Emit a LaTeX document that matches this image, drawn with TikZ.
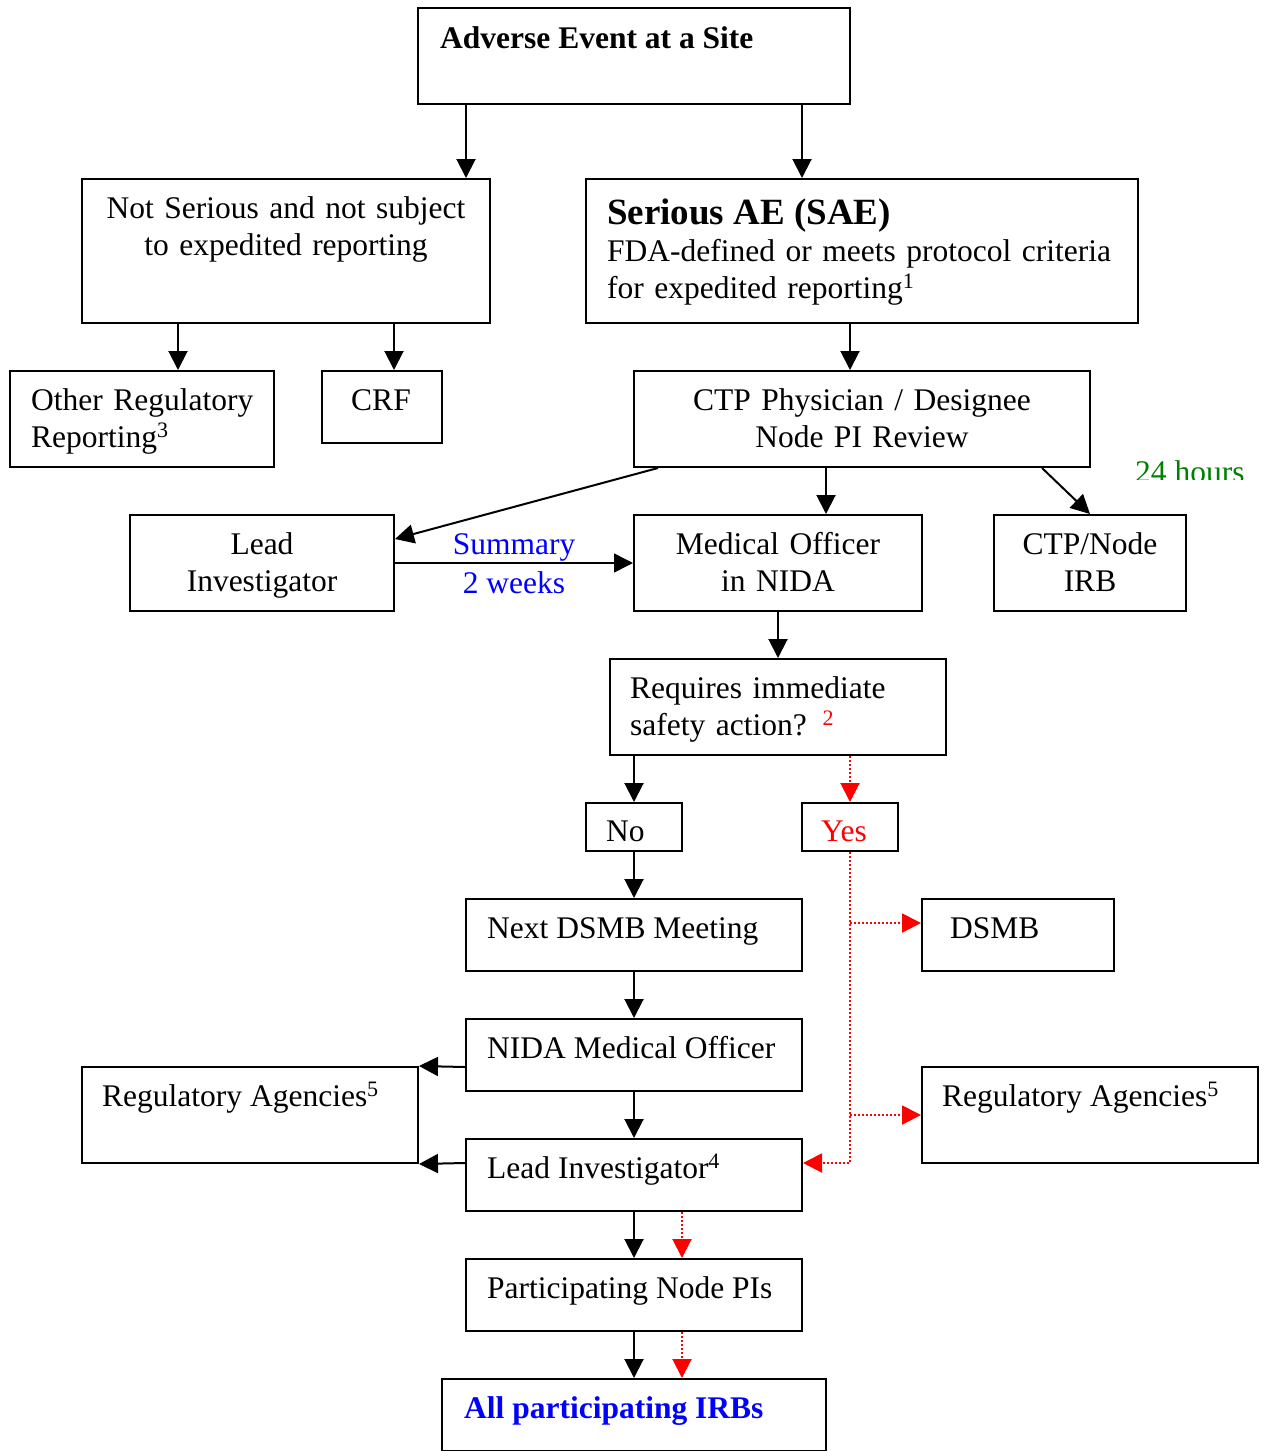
\documentclass[tikz,border=0pt]{standalone}
\usepackage{fontspec}
\setmainfont{Liberation Serif}
\usetikzlibrary{arrows.meta, positioning}
\definecolor{hourgreen}{RGB}{0,128,0}
\definecolor{sumblue}{RGB}{0,0,255}

\tikzset{
  box/.style={draw, line width=2pt, inner sep=0pt},
  txt/.style={inner sep=0pt, font=\fontsize{31.5}{37}\selectfont},
  arr/.style={line width=2pt, -{Triangle[length=19pt, width=19pt]}},
  redarr/.style={red, line width=2pt, dash pattern=on 2pt off 2pt, -{Triangle[length=19pt, width=19pt]}},
}

\begin{document}
\begin{tikzpicture}[x=1pt, y=-1pt]
  \useasboundingbox (0,0) rectangle (1264,1451);

  % Boxes
  \node[box, minimum width=432pt, minimum height=96pt] (ae) at (634,56) {};
  \node[box, minimum width=408pt, minimum height=144pt] (nots) at (286,251) {};
  \node[box, minimum width=552pt, minimum height=144pt] (sae) at (862,251) {};
  \node[box, minimum width=264pt, minimum height=96pt] (otherreg) at (142,419) {};
  \node[box, minimum width=120pt, minimum height=72pt] (crf) at (382,407) {};
  \node[box, minimum width=456pt, minimum height=96pt] (ctp) at (862,419) {};
  \node[box, minimum width=264pt, minimum height=96pt] (lead) at (262,563) {};
  \node[box, minimum width=288pt, minimum height=96pt] (medoff) at (778,563) {};
  \node[box, minimum width=192pt, minimum height=96pt] (irb) at (1090,563) {};
  \node[box, minimum width=336pt, minimum height=96pt] (safety) at (778,707) {};
  \node[box, minimum width=96pt, minimum height=48pt] (no) at (634,827) {};
  \node[box, minimum width=96pt, minimum height=48pt] (yes) at (850,827) {};
  \node[box, minimum width=336pt, minimum height=72pt] (dsmbmeet) at (634,935) {};
  \node[box, minimum width=192pt, minimum height=72pt] (dsmb) at (1018,935) {};
  \node[box, minimum width=336pt, minimum height=72pt] (nidamo) at (634,1055) {};
  \node[box, minimum width=336pt, minimum height=96pt] (regleft) at (250,1115) {};
  \node[box, minimum width=336pt, minimum height=96pt] (regright) at (1090,1115) {};
  \node[box, minimum width=336pt, minimum height=72pt] (leadinv) at (634,1175) {};
  \node[box, minimum width=336pt, minimum height=72pt] (nodepis) at (634,1295) {};
  \node[box, minimum width=384pt, minimum height=72pt] (irbs) at (634,1415) {};

  % Texts
  \node[txt, font=\fontsize{31.5}{37}\selectfont\bfseries, anchor=base west] (aetxt) at (440,48) {Adverse Event at a Site};
  \node[txt, text width=400pt, align=center, anchor=base] (notstxt) at (286,218) {Not Serious and not subject\\to expedited reporting};
  \node[txt, font=\fontsize{37}{40}\selectfont\bfseries, anchor=base west] (saetitle) at (607,224) {Serious AE (SAE)};
  \node[txt, text width=540pt, align=left, anchor=base west] (saetxt) at (607,261) {FDA-defined or meets protocol criteria\\for expedited reporting\textsuperscript{1}};
  \node[txt, text width=250pt, align=left, anchor=base west] (otherregtxt) at (31,410) {Other Regulatory\\Reporting\textsuperscript{3}};
  \node[txt, anchor=base] (crftxt) at (381,410) {CRF};
  \node[txt, text width=440pt, align=center, anchor=base] (ctptxt) at (862,410) {CTP Physician / Designee\\Node PI Review};
  \node[txt, text width=250pt, align=center, anchor=base] (leadtxt) at (262,554) {Lead\\Investigator};
  \node[txt, text width=280pt, align=center, anchor=base] (medofftxt) at (778,554) {Medical Officer\\in NIDA};
  \node[txt, text width=180pt, align=center, anchor=base] (irbtxt) at (1090,554) {CTP/Node\\IRB};
  \begin{scope}
    \clip (1100,440) rectangle (1264,479);
    \node[txt, text=hourgreen, anchor=base west] (hourstxt) at (1135,482) {24 hours};
  \end{scope}
  \node[txt, text width=320pt, align=left, anchor=base west] (safetytxt) at (630,698) {Requires immediate\\safety action? \textcolor{red}{\textsuperscript{2}}};
  \node[txt, anchor=base west] (notxt) at (606,841) {No};
  \node[txt, text=red, anchor=base] (yestxt) at (844,841) {Yes};
  \node[txt, anchor=base west] (dsmbmeettxt) at (487,938) {Next DSMB Meeting};
  \node[txt, anchor=base west] (dsmbtxt) at (950,938) {DSMB};
  \node[txt, anchor=base west] (nidamotxt) at (487,1058) {NIDA Medical Officer};
  \node[txt, anchor=base west] (reglefttxt) at (102,1106) {Regulatory Agencies\textsuperscript{5}};
  \node[txt, anchor=base west] (regrighttxt) at (942,1106) {Regulatory Agencies\textsuperscript{5}};
  \node[txt, anchor=base west] (leadinvtxt) at (487,1178) {Lead Investigator\textsuperscript{4}};
  \node[txt, anchor=base west] (nodepistxt) at (487,1298) {Participating Node PIs};
  \node[txt, font=\fontsize{31.5}{37}\selectfont\bfseries, text=sumblue, anchor=base west] (irbstxt) at (464,1418) {All participating IRBs};

  % Arrows
  \draw[arr] ([xshift=-168pt]ae.south) -- ([xshift=180pt]nots.north);
  \draw[arr] ([xshift=168pt]ae.south) -- ([xshift=-60pt]sae.north);
  \draw[arr] ([xshift=-108pt]nots.south) -- ([xshift=36pt]otherreg.north);
  \draw[arr] ([xshift=108pt]nots.south) -- ([xshift=12pt]crf.north);
  \draw[arr] ([xshift=-12pt]sae.south) -- ([xshift=-12pt]ctp.north);
  \draw[arr] ([xshift=-204pt]ctp.south) -- ([yshift=24pt]lead.east);
  \draw[arr] ([xshift=-36pt]ctp.south) -- ([xshift=48pt]medoff.north);
  \draw[arr] ([xshift=180pt]ctp.south) -- (irb.north);
  \draw[arr, line width=1.5pt] (lead.east) -- node[txt, text=sumblue, above=1pt] (sumtxt) {Summary}
    node[txt, text=sumblue, below=8pt] (weekstxt) {2 weeks} (medoff.west);
  \draw[arr] (medoff.south) -- (safety.north);
  \draw[arr] ([xshift=-144pt]safety.south) -- (no.north);
  \draw[redarr] ([xshift=72pt]safety.south) -- (yes.north);
  \draw[arr] (no.south) -- (dsmbmeet.north);

  % Yes branch
  \coordinate (yesturn) at ([yshift=12pt]yes.south |- leadinv.east);
  \coordinate (yesdsmb) at ([yshift=12pt]yes.south |- dsmb.west);
  \coordinate (yesreg) at (yes.south |- regright.west);
  \draw[redarr] (yes.south) -- (yesturn) -- ([yshift=12pt]leadinv.east);
  \draw[redarr] (yesdsmb) -- ([yshift=12pt]dsmb.west);
  \draw[redarr] (yesreg) -- (regright.west);

  \draw[arr] (dsmbmeet.south) -- (nidamo.north);
  \draw[arr] ([yshift=-12pt]nidamo.west) -- (regleft.north east);
  \draw[arr] (nidamo.south) -- (leadinv.north);
  \draw[arr] ([yshift=12pt]leadinv.west) -- (regleft.south east);
  \draw[arr] (leadinv.south) -- (nodepis.north);
  \draw[redarr] ([xshift=48pt]leadinv.south) -- ([xshift=48pt]nodepis.north);
  \draw[arr] (nodepis.south) -- (irbs.north);
  \draw[redarr] ([xshift=48pt]nodepis.south) -- ([xshift=48pt]irbs.north);
\end{tikzpicture}
\end{document}
